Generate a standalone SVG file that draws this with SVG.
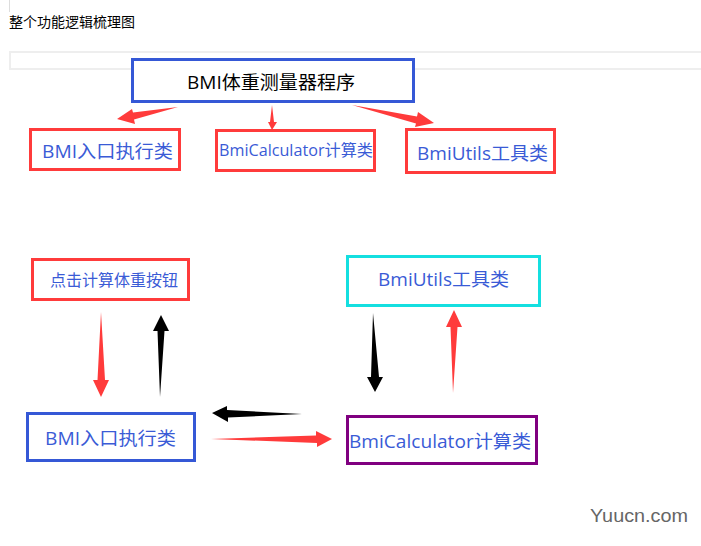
<svg xmlns="http://www.w3.org/2000/svg" width="701" height="546" viewBox="0 0 701 546">
<style>
text{font-family:"Open Sans","Noto Sans CJK SC",sans-serif;fill:#3a5bd6;font-size:18px}
rect{fill:#fff;stroke-width:3}
.red{stroke:#ff3b3b}
.blue{stroke:#3558d6}
.r{fill:#ff3b3b}
.k{fill:#000}
</style>
<rect width="701" height="546" style="fill:#fff;stroke:none"/>
<g id="page">
<path d="M9.5 0V12" stroke="#ddd" fill="none"/>
<text x="9" y="27" textLength="126" lengthAdjust="spacingAndGlyphs" style="fill:#000;font-size:14px">整个功能逻辑梳理图</text>
<path d="M701 52H10V69H701" fill="none" stroke="#eee" stroke-width="2"/>
</g>
<g id="n-root"><rect class="blue" x="132.500" y="59.500" width="281" height="42"/><text x="187" y="89" textLength="168" lengthAdjust="spacingAndGlyphs" style="fill:#000">BMI体重测量器程序</text></g>
<g id="n-bmi-top"><rect class="red" x="30.500" y="129.500" width="149" height="40"/><text x="42" y="158" textLength="131" lengthAdjust="spacingAndGlyphs">BMI入口执行类</text></g>
<g id="n-calc-top"><rect class="red" x="216.500" y="130.500" width="158" height="40"/><text x="219" y="156" textLength="154" lengthAdjust="spacingAndGlyphs" style="font-size:16px">BmiCalculator计算类</text></g>
<g id="n-utils-top"><rect class="red" x="406.500" y="129.500" width="148" height="43"/><text x="417" y="160" textLength="131" lengthAdjust="spacingAndGlyphs">BmiUtils工具类</text></g>
<g id="n-button"><rect class="red" x="32.500" y="259.500" width="156" height="40"/><text x="50" y="286" textLength="128" lengthAdjust="spacingAndGlyphs" style="font-size:16px">点击计算体重按钮</text></g>
<g id="n-bmi"><rect class="blue" x="27.500" y="413.500" width="167" height="47"/><text x="45" y="445" textLength="131" lengthAdjust="spacingAndGlyphs">BMI入口执行类</text></g>
<g id="n-utils"><rect x="347.500" y="256.500" width="192" height="49" style="stroke:#14dfe0"/><text x="378" y="286" textLength="131" lengthAdjust="spacingAndGlyphs">BmiUtils工具类</text></g>
<g id="n-calc"><rect x="347.500" y="416.500" width="189" height="47" style="stroke:#800080"/><text x="349" y="448" textLength="182" lengthAdjust="spacingAndGlyphs">BmiCalculator计算类</text></g>
<g id="connectors">
<polygon class="r" points="178,107 133,112.500 132,109 117,119 135,124 134,119.500"/>
<polygon class="r" points="272,105 274,122 277,122 272,130 268,122 270,122"/>
<polygon class="r" points="352,105 417,116.500 418,112 434,123 415,127 416,123.500"/>
<polygon class="r" points="101,312 105,380 109,380 101,397 93,380 97.500,380"/>
<polygon class="k" points="160,397 164.500,331 169,331 161,315 153,331 157.500,331"/>
<polygon class="k" points="302,414 228,417.500 228,422 212,413 227,406 227,410"/>
<polygon class="r" points="211,439 316,435.500 316,431 332,439 317,447 317,443"/>
<polygon class="k" points="373,313 379,377 383,377 375,392 367,377 371,377"/>
<polygon class="r" points="453,393 457.500,327 462,327 454,310 446,327 450.500,327"/>
</g>
<text x="590" y="522" textLength="98" lengthAdjust="spacingAndGlyphs" style="font-family:'Liberation Sans',sans-serif;font-size:19px;fill:#666">Yuucn.com</text>
</svg>
